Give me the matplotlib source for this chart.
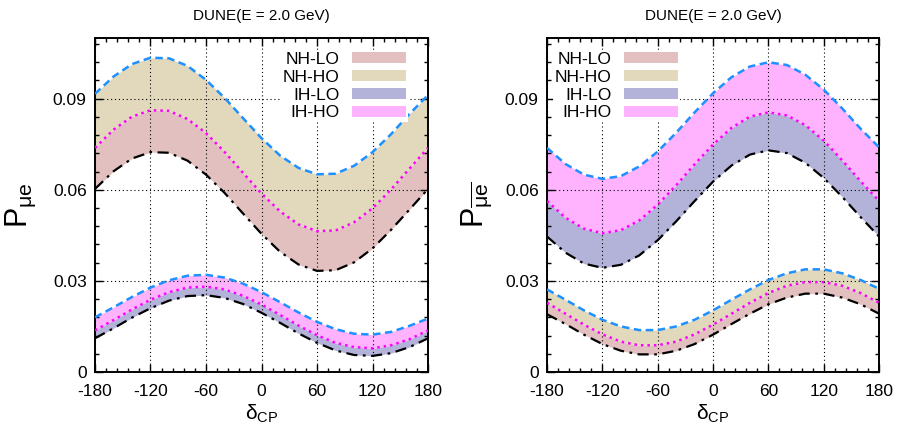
import numpy as np
import matplotlib.pyplot as plt
from matplotlib.patches import Patch
from matplotlib.ticker import MultipleLocator, FixedLocator, FixedFormatter

plt.rcParams['font.family'] = ['Liberation Sans', 'DejaVu Sans']
plt.rcParams['mathtext.fontset'] = 'custom'
plt.rcParams['mathtext.rm'] = 'Liberation Sans'
plt.rcParams['mathtext.it'] = 'Liberation Sans'
plt.rcParams['mathtext.default'] = 'regular'
plt.rcParams['axes.unicode_minus'] = False

# ---------------------------------------------------------------
# data (delta_CP in degrees)
# ---------------------------------------------------------------
delta = [-180, -160, -140, -120, -100, -80, -60, -40, -20, 0,
         20, 40, 60, 80, 100, 120, 140, 160, 180]

# neutrino panel, NH band
nu_nh_low = [0.0603, 0.0661, 0.0703, 0.0724, 0.0722, 0.0696, 0.0650, 0.0590, 0.0522, 0.0455,
             0.0396, 0.0354, 0.0333, 0.0335, 0.0361, 0.0407, 0.0468, 0.0535, 0.0603]
nu_nh_mid = [0.0738, 0.0798, 0.0841, 0.0862, 0.0860, 0.0833, 0.0787, 0.0725, 0.0656, 0.0588,
             0.0529, 0.0486, 0.0464, 0.0466, 0.0493, 0.0539, 0.0601, 0.0670, 0.0738]
nu_nh_high = [0.0916, 0.0973, 0.1014, 0.1035, 0.1033, 0.1008, 0.0962, 0.0903, 0.0836, 0.0770,
              0.0713, 0.0672, 0.0651, 0.0653, 0.0679, 0.0724, 0.0783, 0.0850, 0.0912]
# neutrino panel, IH band
nu_ih_low = [0.0111, 0.0144, 0.0179, 0.0210, 0.0235, 0.0250, 0.0253, 0.0244, 0.0224, 0.0195,
             0.0162, 0.0127, 0.0096, 0.0071, 0.0056, 0.0053, 0.0062, 0.0082, 0.0111]
nu_ih_mid = [0.0137, 0.0171, 0.0206, 0.0238, 0.0263, 0.0278, 0.0281, 0.0272, 0.0251, 0.0222,
             0.0188, 0.0153, 0.0121, 0.0096, 0.0082, 0.0078, 0.0088, 0.0108, 0.0137]
nu_ih_high = [0.0180, 0.0213, 0.0247, 0.0278, 0.0302, 0.0317, 0.0320, 0.0311, 0.0291, 0.0263,
              0.0230, 0.0196, 0.0165, 0.0141, 0.0126, 0.0123, 0.0132, 0.0152, 0.0176]

# antineutrino panel, IH band
anu_ih_low = [0.0446, 0.0393, 0.0357, 0.0343, 0.0353, 0.0384, 0.0434, 0.0496, 0.0563, 0.0627,
              0.0680, 0.0716, 0.0730, 0.0721, 0.0689, 0.0639, 0.0577, 0.0510, 0.0446]
anu_ih_mid = [0.0563, 0.0508, 0.0472, 0.0457, 0.0467, 0.0499, 0.0551, 0.0615, 0.0684, 0.0749,
              0.0804, 0.0841, 0.0855, 0.0845, 0.0813, 0.0762, 0.0697, 0.0628, 0.0563]
anu_ih_high = [0.0738, 0.0685, 0.0650, 0.0636, 0.0645, 0.0677, 0.0726, 0.0788, 0.0855, 0.0918,
               0.0971, 0.1006, 0.1020, 0.1011, 0.0979, 0.0930, 0.0868, 0.0801, 0.0740]
# antineutrino panel, NH band
anu_nh_low = [0.0190, 0.0158, 0.0123, 0.0092, 0.0070, 0.0058, 0.0058, 0.0070, 0.0092, 0.0123,
              0.0158, 0.0192, 0.0223, 0.0245, 0.0258, 0.0258, 0.0245, 0.0223, 0.0192]
anu_nh_mid = [0.0228, 0.0192, 0.0156, 0.0124, 0.0100, 0.0088, 0.0088, 0.0100, 0.0124, 0.0156,
              0.0192, 0.0228, 0.0260, 0.0284, 0.0296, 0.0296, 0.0284, 0.0260, 0.0228]
anu_nh_high = [0.0272, 0.0238, 0.0203, 0.0172, 0.0150, 0.0138, 0.0138, 0.0150, 0.0172, 0.0203,
               0.0238, 0.0272, 0.0303, 0.0325, 0.0338, 0.0338, 0.0325, 0.0303, 0.0274]

legend_labels = ["NH-LO", "NH-HO", "IH-LO", "IH-HO"]
legend_colors = ["#e2c0c0", "#e2d9bd", "#b3b3d9", "#ffb3ff"]
x_ticks = [-180, -120, -60, 0, 60, 120, 180]
y_ticks = [0, 0.03, 0.06, 0.09]
y_ticklabels = ["0", "0.03", "0.06", "0.09"]
title = "DUNE(E = 2.0 GeV)"

fig = plt.figure(figsize=(9.03, 4.33), dpi=100)
ax1 = fig.add_axes([0.1052, 0.1409, 0.3688, 0.7714])
ax2 = fig.add_axes([0.6058, 0.1409, 0.3677, 0.7714])


def draw_band(ax, low, mid, high, c_low, c_high):
    ax.fill_between(delta, low, mid, color=c_low, lw=0, zorder=1)
    ax.fill_between(delta, mid, high, color=c_high, lw=0, zorder=1)
    ax.plot(delta, low, color="black", ls=(0, (5, 2.5, 1.2, 2.5)), lw=1.6, zorder=3)
    ax.plot(delta, mid, color="#ff00ff", ls=(0, (1, 1.6)), lw=1.8, zorder=3)
    ax.plot(delta, high, color="#1e90ff", ls=(0, (3, 1.8)), lw=1.8, zorder=3)


draw_band(ax1, nu_nh_low, nu_nh_mid, nu_nh_high, legend_colors[0], legend_colors[1])
draw_band(ax1, nu_ih_low, nu_ih_mid, nu_ih_high, legend_colors[2], legend_colors[3])
draw_band(ax2, anu_ih_low, anu_ih_mid, anu_ih_high, legend_colors[2], legend_colors[3])
draw_band(ax2, anu_nh_low, anu_nh_mid, anu_nh_high, legend_colors[0], legend_colors[1])

handles = [Patch(facecolor=c, edgecolor="none") for c in legend_colors]

for ax in (ax1, ax2):
    ax.set_xlim(-180, 180)
    ax.set_ylim(0, 0.11)
    ax.xaxis.set_major_locator(FixedLocator(x_ticks))
    ax.xaxis.set_minor_locator(MultipleLocator(12))
    ax.yaxis.set_major_locator(FixedLocator(y_ticks))
    ax.yaxis.set_major_formatter(FixedFormatter(y_ticklabels))
    ax.yaxis.set_minor_locator(MultipleLocator(0.006))
    ax.tick_params(which="both", direction="in", top=True, right=True, labelsize=12.5, width=1)
    ax.tick_params(which="major", length=6)
    ax.tick_params(which="minor", length=3)
    ax.tick_params(axis="x", which="major", pad=9)
    ax.tick_params(axis="y", which="major", pad=6)
    for s in ax.spines.values():
        s.set_linewidth(1.4)
    ax.set_axisbelow(False)
    ax.grid(True, which="major", color="black", ls=(0, (1, 2.5)), lw=0.8)
    ax.set_title(title, fontsize=11, pad=13)
    ax.set_xlabel(r"δ$_{CP}$", fontsize=15, labelpad=2)

ax1.set_ylabel(r"P$_{μe}$", fontsize=22)
ax2.set_ylabel(r"P$_{\overline{μe}}$", fontsize=22)
ax1.yaxis.set_label_coords(-0.17, 0.5)
ax2.yaxis.set_label_coords(-0.16, 0.5)

leg_kw = dict(frameon=True, facecolor="white", edgecolor="none", framealpha=1, fancybox=False,
              markerfirst=False, fontsize=12.5, handlelength=3.1, handleheight=0.6,
              labelspacing=0.16, borderpad=0.1, handletextpad=0.75, borderaxespad=0)
ax1.legend(handles, legend_labels, loc="upper right", bbox_to_anchor=(0.94, 0.963), **leg_kw)
ax2.legend(handles, legend_labels, loc="upper right", bbox_to_anchor=(0.40, 0.963), **leg_kw)

fig.savefig("out.png", dpi=100)
